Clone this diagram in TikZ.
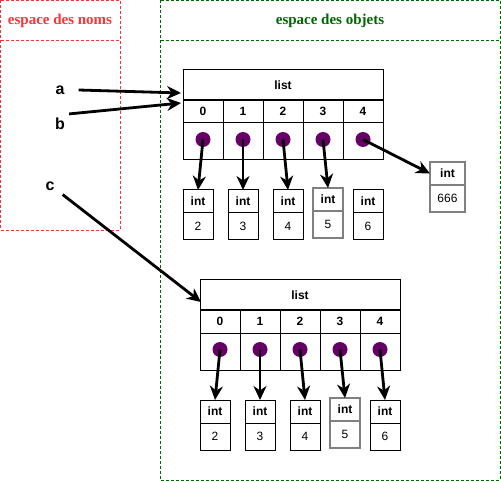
\documentclass[tikz,border=0pt]{standalone}
\usepackage{fontspec}
\setmainfont{Liberation Serif}
\setsansfont{Liberation Sans}
\usepackage{tikz}
\usetikzlibrary{
  arrows.meta,
  positioning
}
\definecolor{NomsRed}{RGB}{255, 51, 51}
\definecolor{ObjGreen}{RGB}{0, 102, 0}
\definecolor{RefPurple}{RGB}{102, 0, 102}
\definecolor{BoxGray}{RGB}{128, 128, 128}
\tikzset{
    zone/.style={dashed, line width=0.7pt, dash pattern=on 3pt off 2pt},
    zonetitle/.style={font=\fontsize{15}{18}\selectfont\bfseries},
    titlecell/.style={draw, line width=1pt, inner sep=0pt, outer sep=0pt, minimum width=200pt, minimum height=30pt, font=\sffamily\bfseries\fontsize{12}{14}\selectfont},
    idxcell/.style={draw, line width=1pt, inner sep=0pt, outer sep=0pt, minimum width=40pt, minimum height=23pt, font=\sffamily\bfseries\fontsize{12}{14}\selectfont},
    valcell/.style={draw, line width=1pt, inner sep=0pt, outer sep=0pt, minimum width=40pt, minimum height=37pt},
    refdot/.style={circle, fill=RefPurple, inner sep=0pt, minimum size=15pt},
    inthead/.style={draw, line width=1pt, inner sep=0pt, outer sep=0pt, minimum width=30pt, minimum height=23pt, font=\sffamily\bfseries\fontsize{12}{14}\selectfont},
    intval/.style={draw, line width=1pt, inner sep=0pt, outer sep=0pt, minimum width=30pt, minimum height=27pt, font=\sffamily\fontsize{12}{14}\selectfont},
    grayed/.style={draw=BoxGray, line width=1.2pt},
    varname/.style={inner sep=4pt, font=\sffamily\bfseries\fontsize{16}{18}\selectfont},
    ptr/.style={line width=2.8pt, -{Stealth[length=14pt, width=13pt, inset=4.5pt]}}
}

\begin{document}
\begin{tikzpicture}[x=1pt, y=-1pt]
    \useasboundingbox (0,0) rectangle (501,481);

    % espace des noms / espace des objets
    \draw[zone, NomsRed] (0.5,0.5) rectangle (120,230);
    \draw[zone, NomsRed] (0.5,40) -- (120,40);
    \node[zonetitle, text=NomsRed] (noms) at (60,21) {espace des noms};
    \draw[zone, ObjGreen] (160.5,0.5) rectangle (500,480);
    \draw[zone, ObjGreen] (160.5,40) -- (500,40);
    \node[zonetitle, text=ObjGreen] (objets) at (330,21) {espace des objets};

    % premiere liste
    \node[titlecell] (l1) at (283,85) {list};
    \node[idxcell, anchor=north west] (l1i0) at (l1.south west) {0};
    \node[idxcell, right=0pt of l1i0] (l1i1) {1};
    \node[idxcell, right=0pt of l1i1] (l1i2) {2};
    \node[idxcell, right=0pt of l1i2] (l1i3) {3};
    \node[idxcell, right=0pt of l1i3] (l1i4) {4};
    \node[valcell, below=0pt of l1i0] (l1v0) {};
    \node[valcell, below=0pt of l1i1] (l1v1) {};
    \node[valcell, below=0pt of l1i2] (l1v2) {};
    \node[valcell, below=0pt of l1i3] (l1v3) {};
    \node[valcell, below=0pt of l1i4] (l1v4) {};
    \draw[line width=2pt] (l1.south west) -- (l1.south east);
    \node[refdot] (l1d0) at ([yshift=2pt]l1v0.center) {};
    \node[refdot] (l1d1) at ([yshift=2pt]l1v1.center) {};
    \node[refdot] (l1d2) at ([yshift=2pt]l1v2.center) {};
    \node[refdot] (l1d3) at ([yshift=2pt]l1v3.center) {};
    \node[refdot] (l1d4) at ([yshift=2pt]l1v4.center) {};

    \node[inthead] (l1h0) at (198,201.5) {int};
    \node[intval, below=0pt of l1h0] (l1n0) {2};
    \node[inthead] (l1h1) at (243,201.5) {int};
    \node[intval, below=0pt of l1h1] (l1n1) {3};
    \node[inthead] (l1h2) at (288,201.5) {int};
    \node[intval, below=0pt of l1h2] (l1n2) {4};
    \node[inthead, grayed] (l1h3) at (328,199.5) {int};
    \node[intval, grayed, below=0pt of l1h3] (l1n3) {5};
    \node[inthead] (l1h4) at (368,201.5) {int};
    \node[intval, below=0pt of l1h4] (l1n4) {6};
    \node[inthead, grayed, minimum width=35pt] (h666) at (447.5,173.5) {int};
    \node[intval, grayed, minimum width=35pt, below=0pt of h666] (n666) {666};

    % deuxieme liste
    \node[titlecell] (l2) at (300,295) {list};
    \node[idxcell, anchor=north west] (l2i0) at (l2.south west) {0};
    \node[idxcell, right=0pt of l2i0] (l2i1) {1};
    \node[idxcell, right=0pt of l2i1] (l2i2) {2};
    \node[idxcell, right=0pt of l2i2] (l2i3) {3};
    \node[idxcell, right=0pt of l2i3] (l2i4) {4};
    \node[valcell, below=0pt of l2i0] (l2v0) {};
    \node[valcell, below=0pt of l2i1] (l2v1) {};
    \node[valcell, below=0pt of l2i2] (l2v2) {};
    \node[valcell, below=0pt of l2i3] (l2v3) {};
    \node[valcell, below=0pt of l2i4] (l2v4) {};
    \draw[line width=2pt] (l2.south west) -- (l2.south east);
    \node[refdot] (l2d0) at ([yshift=2pt]l2v0.center) {};
    \node[refdot] (l2d1) at ([yshift=2pt]l2v1.center) {};
    \node[refdot] (l2d2) at ([yshift=2pt]l2v2.center) {};
    \node[refdot] (l2d3) at ([yshift=2pt]l2v3.center) {};
    \node[refdot] (l2d4) at ([yshift=2pt]l2v4.center) {};

    \node[inthead] (l2h0) at (215,411.5) {int};
    \node[intval, below=0pt of l2h0] (l2n0) {2};
    \node[inthead] (l2h1) at (260,411.5) {int};
    \node[intval, below=0pt of l2h1] (l2n1) {3};
    \node[inthead] (l2h2) at (305,411.5) {int};
    \node[intval, below=0pt of l2h2] (l2n2) {4};
    \node[inthead, grayed] (l2h3) at (345,409.5) {int};
    \node[intval, grayed, below=0pt of l2h3] (l2n3) {5};
    \node[inthead] (l2h4) at (385,411.5) {int};
    \node[intval, below=0pt of l2h4] (l2n4) {6};

    % references
    \draw[ptr] (l1d0.center) -- (l1h0.north);
    \draw[ptr] (l1d1.center) -- (l1h1.north);
    \draw[ptr] (l1d2.center) -- (l1h2.north);
    \draw[ptr] (l1d3.center) -- (l1h3.north);
    \draw[ptr] (l1d4.center) -- (h666.west);
    \draw[ptr] (l2d0.center) -- (l2h0.north);
    \draw[ptr] (l2d1.center) -- (l2h1.north);
    \draw[ptr] (l2d2.center) -- (l2h2.north);
    \draw[ptr] (l2d3.center) -- (l2h3.north);
    \draw[ptr] (l2d4.center) -- (l2h4.north);

    % noms
    \node[varname] (a) at (60,90) {a};
    \node[varname] (b) at (60,124) {b};
    \node[varname] (c) at (50,186) {c};
    \coordinate (a-tip) at (181,93);
    \coordinate (b-tip) at (181,103);
    \coordinate (c-tip) at (201,302);
    \draw[ptr] ([xshift=10pt]a.east) -- (a-tip);
    \draw[ptr] (b.north east) -- (b-tip);
    \draw[ptr] ([xshift=4pt]c.south east) -- (c-tip);
\end{tikzpicture}
\end{document}
